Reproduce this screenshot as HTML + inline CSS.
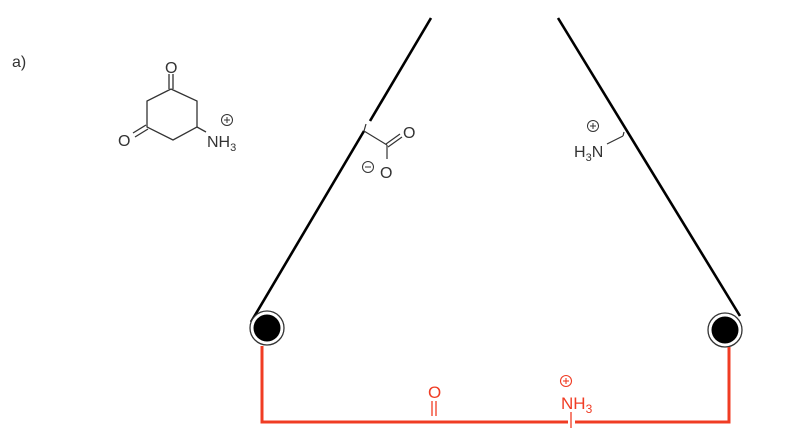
<!DOCTYPE html>
<html><head><meta charset="utf-8"><style>
html,body{margin:0;padding:0;background:#fff;width:796px;height:448px;overflow:hidden}
svg text{font-family:"Liberation Sans",Arial,sans-serif}
</style></head><body>
<svg width="796" height="448" viewBox="0 0 796 448" xmlns="http://www.w3.org/2000/svg">
<text x="12" y="67" font-size="16" fill="#333">a)</text>
<!-- ring -->
<g stroke="#333" stroke-width="1.3" fill="none">
<polyline points="171,89 197,101 197,127 173,140 147,127 147,101 171,89"/>
<line x1="169" y1="89" x2="169" y2="74"/><line x1="173" y1="89" x2="173" y2="74"/>
<line x1="146" y1="125" x2="133" y2="133"/><line x1="148" y1="129" x2="135" y2="137"/>
<line x1="197" y1="127" x2="206" y2="132"/>
<circle cx="227" cy="120" r="5.5" stroke-width="1"/>
<line x1="224" y1="120" x2="230" y2="120" stroke-width="1"/><line x1="227" y1="117" x2="227" y2="123" stroke-width="1"/>
</g>
<text x="165" y="73" font-size="16" fill="#333">O</text>
<text x="118" y="146" font-size="16" fill="#333">O</text>
<text x="207" y="147" font-size="16" fill="#333">NH<tspan font-size="11" dy="4">3</tspan></text>
<!-- left arm -->
<line x1="431" y1="18" x2="370" y2="121" stroke="#000" stroke-width="2.6"/>
<line x1="364" y1="131" x2="251" y2="322" stroke="#000" stroke-width="2.6"/>
<g stroke="#333" stroke-width="1.2" fill="none">
<line x1="364" y1="131" x2="366" y2="124"/>
<line x1="364" y1="131" x2="387" y2="145"/>
<line x1="386" y1="144" x2="400" y2="134"/><line x1="388" y1="147" x2="402" y2="137"/>
<line x1="387" y1="145" x2="387" y2="159"/>
<circle cx="368" cy="167" r="5.5" stroke-width="1"/>
<line x1="365" y1="167" x2="371" y2="167" stroke-width="1"/>
</g>
<text x="403" y="138" font-size="16" fill="#333">O</text>
<text x="380" y="178" font-size="16" fill="#333">O</text>
<!-- right arm -->
<line x1="558" y1="18" x2="740" y2="316" stroke="#000" stroke-width="2.6"/>
<g stroke="#333" stroke-width="1.2" fill="none">
<line x1="607" y1="144" x2="623" y2="136"/><line x1="623" y1="136" x2="624" y2="132"/>
<circle cx="593" cy="126" r="5.5" stroke-width="1"/>
<line x1="590" y1="126" x2="596" y2="126" stroke-width="1"/><line x1="593" y1="123" x2="593" y2="129" stroke-width="1"/>
</g>
<text x="574" y="157" font-size="16" fill="#333">H<tspan font-size="11" dy="4">3</tspan><tspan dy="-4">N</tspan></text>
<!-- beads -->
<circle cx="267" cy="328" r="17" fill="#fff" stroke="#333" stroke-width="1.3"/>
<circle cx="267" cy="328" r="13.5" fill="#000"/>
<circle cx="725" cy="330" r="17" fill="#fff" stroke="#333" stroke-width="1.3"/>
<circle cx="725" cy="330" r="13.5" fill="#000"/>
<!-- red -->
<g stroke="#f03c24" fill="none">
<polyline points="262,346 262,422 568,422" stroke-width="3"/>
<polyline points="575,422 729,422 729,347" stroke-width="3"/>
<line x1="571" y1="412" x2="571" y2="428" stroke-width="1.3"/>
<line x1="432" y1="401" x2="432" y2="416" stroke-width="1.3"/>
<line x1="436" y1="401" x2="436" y2="416" stroke-width="1.3"/>
<circle cx="566" cy="381" r="5.5" stroke-width="1.1"/>
<line x1="563" y1="381" x2="569" y2="381" stroke-width="1.1"/><line x1="566" y1="378" x2="566" y2="384" stroke-width="1.1"/>
</g>
<text x="428" y="398" font-size="17" fill="#f03c24">O</text>
<text x="561" y="409" font-size="17" fill="#f03c24">NH<tspan font-size="12" dy="4">3</tspan></text>
</svg>
</body></html>
